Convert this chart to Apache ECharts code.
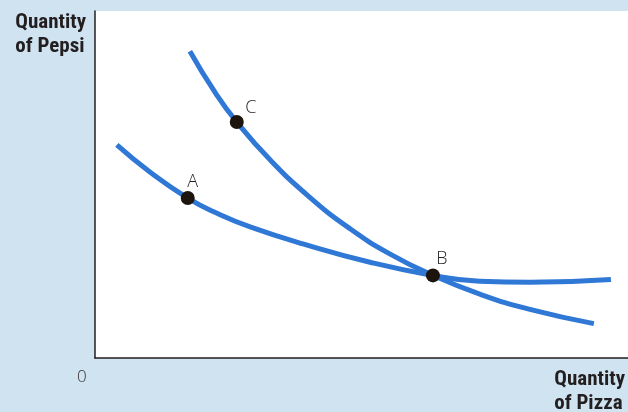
<!DOCTYPE html>
<html>
<head>
<meta charset="utf-8">
<script src="https://cdn.jsdelivr.net/npm/echarts@6/dist/echarts.min.js"></script>
<style>
html,body{margin:0;padding:0;background:#d0e3f0;}
#main{width:628px;height:412px;}
</style>
</head>
<body>
<div id="main"></div>
<script>
// Indifference curve 1 (flatter): through A and B
const curve1X = [4.1, 10.3, 17.4, 23.2, 29.1, 39.0, 51.6, 63.4, 72.2, 81.6, 96.8];
const curve1Y = [61.4, 53.6, 46.1, 41.5, 37.8, 32.9, 27.6, 23.8, 22.1, 21.8, 22.6];
// Indifference curve 2 (steeper): through C and B
const curve2X = [17.8, 22.5, 26.6, 32.8, 40.3, 47.8, 55.3, 63.4, 72.2, 81.6, 93.6];
const curve2Y = [88.4, 76.6, 68.0, 57.2, 46.3, 37.3, 30.0, 23.8, 18.4, 14.0, 9.9];
// Labelled points
const pointNames = ['A', 'B', 'C'];
const pointX = [17.4, 63.4, 26.6];
const pointY = [46.1, 23.8, 68.0];

const zip = (xs, ys) => xs.map((x, i) => [x, ys[i]]);
const labelOffsets = { A: [5, -16], B: [9, -17], C: [14, -14] };

const chart = echarts.init(document.getElementById('main'), null, { renderer: 'canvas' });
const lineColor = '#2f78d6';
const ink = '#231f20';
const titleFont = 'bold 21px "Liberation Sans Narrow", "Roboto Condensed", "Roboto"';
chart.setOption({
  backgroundColor: '#d0e3f0',
  animation: false,
  grid: { left: 95, top: 11, right: 0, bottom: 54, show: true, backgroundColor: '#ffffff', borderWidth: 0 },
  xAxis: {
    type: 'value', min: 0, max: 100,
    axisLine: { show: true, lineStyle: { color: ink, width: 1.5 } },
    axisTick: { show: false }, axisLabel: { show: false }, splitLine: { show: false }
  },
  yAxis: {
    type: 'value', min: 0, max: 100,
    axisLine: { show: true, lineStyle: { color: ink, width: 1.5 } },
    axisTick: { show: false }, axisLabel: { show: false }, splitLine: { show: false }
  },
  graphic: [
    { type: 'text', right: 542, top: 11, style: { text: 'Quantity\nof Pepsi', font: titleFont, fill: ink, align: 'right', lineHeight: 24 } },
    { type: 'text', right: 3, top: 368, style: { text: 'Quantity\nof Pizza', font: titleFont, fill: ink, align: 'right', lineHeight: 24 } },
    { type: 'text', left: 77, top: 369, style: { text: '0', font: '300 17px "Open Sans"', fill: '#333333' } }
  ],
  series: [
    { type: 'line', data: zip(curve1X, curve1Y), smooth: 0.5, showSymbol: false, lineStyle: { color: lineColor, width: 5 }, z: 2 },
    { type: 'line', data: zip(curve2X, curve2Y), smooth: 0.5, showSymbol: false, lineStyle: { color: lineColor, width: 5 }, z: 2 },
    {
      type: 'scatter', z: 5,
      data: pointNames.map((n, i) => ({
        name: n, value: [pointX[i], pointY[i]],
        label: { show: true, formatter: n, position: 'inside', offset: labelOffsets[n], color: ink, fontFamily: 'Open Sans', fontWeight: 300, fontSize: 18 }
      })),
      symbolSize: 14,
      itemStyle: { color: '#1c140d', opacity: 1 }
    }
  ]
});
</script>
</body>
</html>
